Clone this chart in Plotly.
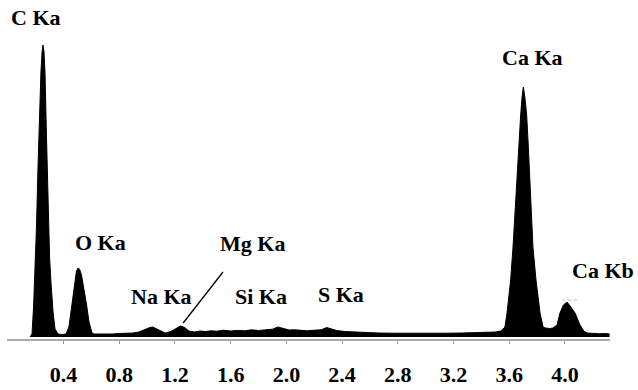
import plotly.graph_objects as go

# EDS spectrum: energy (keV) and counts, split by region
c_peak_kev = [0.160, 0.174, 0.185, 0.195, 0.206, 0.217, 0.228, 0.238, 0.246, 0.253,
              0.260, 0.267, 0.278, 0.289, 0.300, 0.310, 0.325, 0.339, 0.361, 0.390, 0.418]
c_peak_counts = [0, 30, 300, 640, 1100, 1700, 2250, 2650, 2850, 2920,
                 2850, 2650, 2000, 1300, 800, 550, 250, 80, 30, 25, 30]

o_peak_kev = [0.439, 0.457, 0.475, 0.493, 0.504, 0.515, 0.529, 0.547, 0.565, 0.583, 0.605]
o_peak_counts = [100, 300, 500, 660, 690, 680, 620, 480, 330, 150, 40]

background_kev = [0.62, 0.66, 0.70, 0.75, 0.80, 0.85, 0.90, 0.94, 0.98, 1.02, 1.04, 1.07,
                  1.10, 1.13, 1.17, 1.21, 1.24, 1.27, 1.30, 1.34, 1.38, 1.42, 1.46, 1.50,
                  1.55, 1.60, 1.65, 1.70, 1.75, 1.80, 1.85, 1.90, 1.94, 1.98, 2.02, 2.06,
                  2.10, 2.15, 2.20, 2.25, 2.29, 2.32, 2.36, 2.42, 2.50, 2.58, 2.66, 2.76,
                  2.86, 2.96, 3.06, 3.16, 3.26, 3.36, 3.44, 3.50, 3.54]
background_counts = [30, 28, 32, 30, 35, 38, 40, 50, 75, 95, 100, 80,
                     55, 40, 55, 90, 110, 95, 60, 50, 60, 55, 62, 58,
                     68, 60, 66, 62, 72, 65, 70, 78, 100, 85, 70, 72,
                     65, 62, 68, 72, 95, 85, 65, 55, 48, 42, 40, 38,
                     37, 35, 36, 38, 40, 42, 45, 50, 60]

ca_ka_kev = [3.569, 3.584, 3.597, 3.610, 3.627, 3.640, 3.653, 3.668, 3.682, 3.692, 3.701,
             3.712, 3.725, 3.737, 3.749, 3.760, 3.770, 3.792, 3.806, 3.821, 3.843, 3.860,
             3.890, 3.914]
ca_ka_counts = [100, 240, 400, 570, 900, 1230, 1570, 1900, 2220, 2400, 2500,
                2400, 2220, 1900, 1570, 1230, 900, 570, 400, 240, 100, 90,
                85, 90]

ca_kb_kev = [3.943, 3.964, 3.989, 4.014, 4.043, 4.072, 4.108, 4.135, 4.158, 4.20, 4.25, 4.29, 4.32]
ca_kb_counts = [120, 240, 320, 350, 300, 240, 120, 60, 40, 35, 32, 35, 30]

tick_values = [0.4, 0.8, 1.2, 1.6, 2.0, 2.4, 2.8, 3.2, 3.6, 4.0]
tick_labels = [f"{v:.1f}" for v in tick_values]

# Peak labels: (text, energy, counts)
peak_labels = [
    ("C Ka", 0.203, 3200),
    ("O Ka", 0.662, 950),
    ("Na Ka", 1.100, 410),
    ("Mg Ka", 1.760, 940),
    ("Si Ka", 1.818, 410),
    ("S Ka", 2.392, 430),
    ("Ca Ka", 3.770, 2800),
    ("Ca Kb", 4.273, 670),
]

energy = c_peak_kev + o_peak_kev + background_kev + ca_ka_kev + ca_kb_kev
counts = c_peak_counts + o_peak_counts + background_counts + ca_ka_counts + ca_kb_counts

serif = "Liberation Serif"

fig = go.Figure()
fig.add_trace(go.Scatter(
    x=energy, y=counts, mode="lines",
    line=dict(color="black", width=1),
    fill="tozeroy", fillcolor="black",
    hoverinfo="skip", showlegend=False,
))

for text, ex, cy in peak_labels:
    fig.add_annotation(
        x=ex, y=cy, text=f"<b>{text}</b>", showarrow=False,
        xanchor="center", yanchor="middle",
        font=dict(family=serif, size=22, color="black"),
    )

# leader line for Mg Ka
fig.add_shape(type="line", x0=1.259, y0=140, x1=1.545, y1=650,
              line=dict(color="black", width=1.3))
# faint dotted marker above Ca Kb
fig.add_shape(type="line", x0=3.979, y0=370, x1=4.108, y1=370,
              line=dict(color="#bbbbbb", width=1, dash="dot"))

fig.update_xaxes(
    range=[-0.0056, 4.3232],
    tickmode="array", tickvals=tick_values,
    ticktext=[f"<b>{t}</b>" for t in tick_labels],
    showgrid=False, zeroline=False,
    showline=True, linecolor="#aaaaaa", linewidth=2,
    ticks="outside", ticklen=3, tickcolor="#999999", tickwidth=1,
    ticklabelstandoff=12,
    tickfont=dict(family=serif, size=22, color="black"),
)
fig.update_yaxes(
    range=[-20, 3370], visible=False, showgrid=False, zeroline=False,
)

fig.update_layout(
    width=638, height=390,
    margin=dict(l=7, r=28, t=0, b=51),
    paper_bgcolor="white", plot_bgcolor="white",
)

fig.write_html("out.html")
